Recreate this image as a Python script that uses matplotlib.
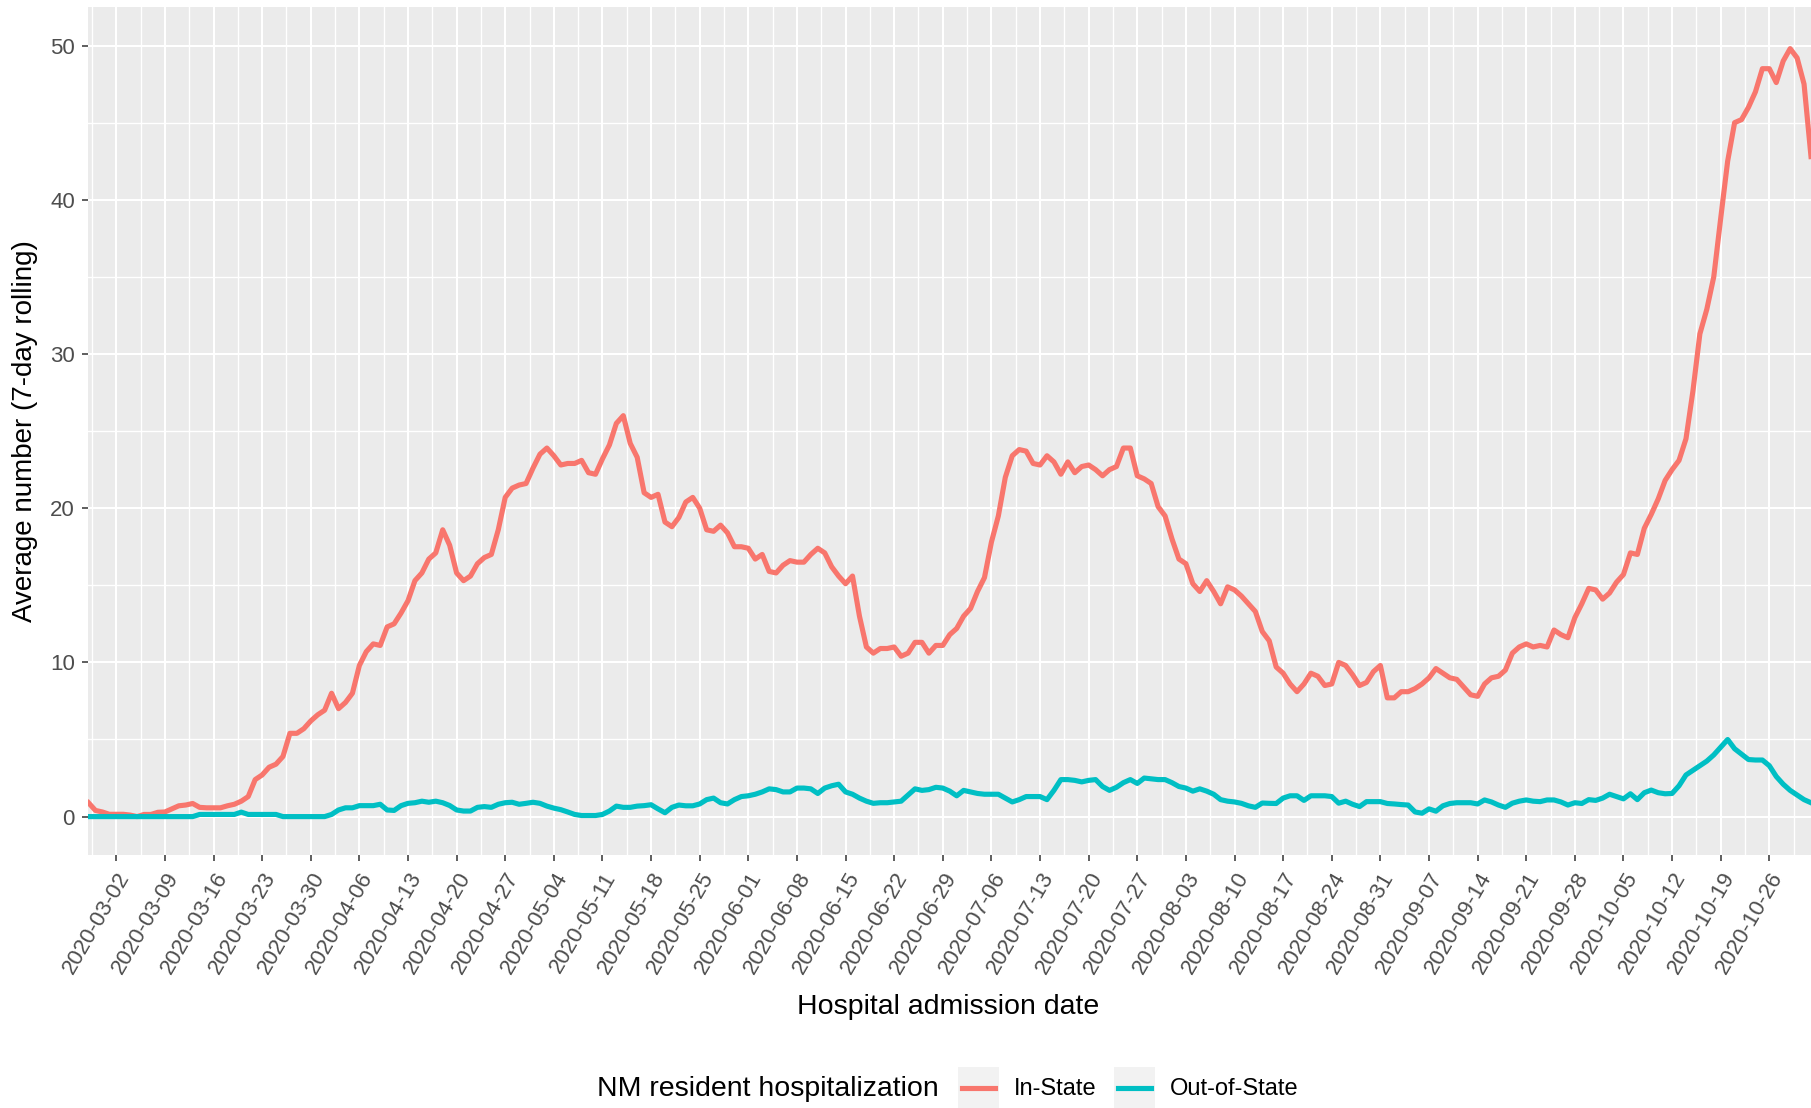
import numpy as np
import pandas as pd
import matplotlib
matplotlib.use("Agg")
import matplotlib.pyplot as plt
import matplotlib.dates as mdates
from matplotlib.patches import Rectangle
from matplotlib.lines import Line2D

plt.rcParams['font.family'] = ['Liberation Sans', 'DejaVu Sans']

# ---------------- data ----------------
start_date = "2020-02-27"

in_state = [
    0.9, 0.4, 0.3, 0.15,
    0.15, 0.15, 0.1, 0.0, 0.14, 0.14, 0.28,
    0.3, 0.5, 0.7, 0.75, 0.85, 0.6, 0.57,
    0.57, 0.57, 0.7, 0.8, 1.0, 1.3, 2.4,
    2.7, 3.2, 3.4, 3.9, 5.4, 5.4, 5.7,
    6.2, 6.6, 6.9, 8.0, 7.0, 7.4, 8.0,
    9.8, 10.7, 11.2, 11.1, 12.3, 12.5, 13.2,
    14.0, 15.3, 15.8, 16.7, 17.1, 18.6, 17.6,
    15.8, 15.3, 15.6, 16.4, 16.8, 17.0, 18.6,
    20.7, 21.3, 21.5, 21.6, 22.6, 23.5, 23.9,
    23.4, 22.8, 22.9, 22.9, 23.1, 22.3, 22.2,
    23.2, 24.1, 25.5, 26.0, 24.2, 23.3, 21.0,
    20.7, 20.9, 19.1, 18.8, 19.4, 20.4, 20.7,
    20.0, 18.6, 18.5, 18.9, 18.4, 17.5, 17.5,
    17.4, 16.7, 17.0, 15.9, 15.8, 16.3, 16.6,
    16.5, 16.5, 17.0, 17.4, 17.1, 16.2, 15.6,
    15.1, 15.6, 13.0, 11.0, 10.6, 10.9, 10.9,
    11.0, 10.4, 10.6, 11.3, 11.3, 10.6, 11.1,
    11.1, 11.8, 12.2, 13.0, 13.5, 14.6, 15.5,
    17.8, 19.5, 22.0, 23.4, 23.8, 23.7, 22.9,
    22.8, 23.4, 23.0, 22.2, 23.0, 22.3, 22.7,
    22.8, 22.5, 22.1, 22.5, 22.7, 23.9, 23.9,
    22.1, 21.9, 21.6, 20.1, 19.5, 18.0, 16.7,
    16.4, 15.1, 14.6, 15.3, 14.6, 13.8, 14.9,
    14.7, 14.3, 13.8, 13.3, 12.0, 11.4, 9.7,
    9.3, 8.6, 8.1, 8.6, 9.3, 9.1, 8.5,
    8.6, 10.0, 9.8, 9.2, 8.5, 8.7, 9.4,
    9.8, 7.7, 7.7, 8.1, 8.1, 8.3, 8.6,
    9.0, 9.6, 9.3, 9.0, 8.9, 8.4, 7.9,
    7.8, 8.6, 9.0, 9.1, 9.5, 10.6, 11.0,
    11.2, 11.0, 11.1, 11.0, 12.1, 11.8, 11.6,
    12.9, 13.8, 14.8, 14.7, 14.1, 14.5, 15.2,
    15.7, 17.1, 17.0, 18.7, 19.6, 20.6, 21.8,
    22.5, 23.1, 24.5, 27.6, 31.3, 32.9, 35.0,
    38.8, 42.5, 45.0, 45.2, 46.0, 47.0, 48.5,
    48.5, 47.6, 49.0, 49.8, 49.2, 47.5, 42.8,
]

out_of_state = [
    0, 0, 0, 0,
    0, 0, 0, 0, 0, 0, 0,
    0, 0, 0, 0, 0, 0.14, 0.14,
    0.14, 0.14, 0.14, 0.14, 0.29, 0.14, 0.14,
    0.14, 0.14, 0.14, 0, 0, 0, 0,
    0, 0, 0, 0.14, 0.43, 0.57, 0.57,
    0.71, 0.71, 0.71, 0.8, 0.43, 0.4, 0.71,
    0.86, 0.9, 1.0, 0.93, 1.0, 0.9, 0.72,
    0.43, 0.36, 0.36, 0.6, 0.65, 0.6, 0.8,
    0.9, 0.93, 0.8, 0.86, 0.93, 0.86, 0.68,
    0.55, 0.45, 0.3, 0.14, 0.07, 0.07, 0.07,
    0.14, 0.36, 0.68, 0.6, 0.6, 0.68, 0.71,
    0.77, 0.5, 0.25, 0.6, 0.75, 0.7, 0.7,
    0.82, 1.1, 1.2, 0.9, 0.82, 1.1, 1.3,
    1.35, 1.45, 1.6, 1.8, 1.75, 1.6, 1.6,
    1.85, 1.85, 1.8, 1.5, 1.85, 2.0, 2.1,
    1.6, 1.45, 1.2, 1.0, 0.86, 0.9, 0.9,
    0.95, 1.0, 1.4, 1.8, 1.7, 1.75, 1.9,
    1.85, 1.65, 1.35, 1.7, 1.6, 1.5, 1.45,
    1.45, 1.45, 1.2, 0.95, 1.1, 1.3, 1.3,
    1.3, 1.1, 1.7, 2.4, 2.4, 2.35, 2.25,
    2.35, 2.4, 1.95, 1.7, 1.9, 2.2, 2.4,
    2.15, 2.5, 2.45, 2.4, 2.4, 2.2, 1.95,
    1.85, 1.65, 1.8, 1.65, 1.45, 1.1, 1.0,
    0.95, 0.86, 0.7, 0.6, 0.88, 0.86, 0.85,
    1.2, 1.35, 1.35, 1.05, 1.35, 1.35, 1.35,
    1.3, 0.87, 1.0, 0.8, 0.65, 0.97, 0.97,
    0.97, 0.85, 0.82, 0.78, 0.75, 0.3, 0.22,
    0.5, 0.35, 0.7, 0.85, 0.9, 0.9, 0.9,
    0.82, 1.08, 0.95, 0.75, 0.6, 0.87, 1.0,
    1.08, 1.0, 0.97, 1.08, 1.08, 0.95, 0.75,
    0.9, 0.85, 1.1, 1.05, 1.2, 1.45, 1.3,
    1.15, 1.48, 1.1, 1.55, 1.72, 1.55, 1.48,
    1.5, 2.0, 2.7, 3.0, 3.3, 3.6, 4.0,
    4.5, 5.0, 4.4, 4.05, 3.7, 3.67, 3.67,
    3.3, 2.6, 2.1, 1.7, 1.4, 1.1, 0.9,
]

series_names = ["In-State", "Out-of-State"]
series_colors = ["#F8766D", "#00BFC4"]
y_ticks = [0, 10, 20, 30, 40, 50]
x_tick_start, x_tick_end = "2020-03-02", "2020-10-26"

dates = pd.date_range(start_date, periods=len(in_state), freq="D")
week_ticks = pd.date_range(x_tick_start, x_tick_end, freq="7D")
week_labels = [d.strftime("%Y-%m-%d") for d in week_ticks]

# ---------------- figure ----------------
W, H = 1811, 1108
fig = plt.figure(figsize=(W / 100, H / 100), dpi=100)
fig.patch.set_facecolor("white")

pl, pr, pt, pb = 88, 1811, 7, 855
ax = fig.add_axes([pl / W, 1 - pb / H, (pr - pl) / W, (pb - pt) / H])
ax.set_facecolor("#EBEBEB")
for s in ax.spines.values():
    s.set_visible(False)

for vals, col in zip([in_state, out_of_state], series_colors):
    ax.plot(dates, vals, color=col, lw=3.7, solid_joinstyle="round", zorder=3)

x0 = mdates.date2num(dates[0])
x1 = mdates.date2num(dates[-1])
ax.set_xlim(x0 - 0.07, x1)
ax.set_ylim(-2.49, 52.5)

ax.set_xticks(mdates.date2num(week_ticks))
ax.set_xticklabels(week_labels, rotation=60, ha="right", va="top",
                   rotation_mode="anchor")
minor_x = np.arange(mdates.date2num(week_ticks[0]) - 3.5, x1 + 1, 7)
ax.set_xticks(minor_x, minor=True)
ax.set_yticks(y_ticks)
ax.set_yticklabels([str(v) for v in y_ticks])
ax.set_yticks([5, 15, 25, 35, 45], minor=True)

ax.grid(which="major", color="white", lw=1.5)
ax.grid(which="minor", color="white", lw=1.0)
ax.set_axisbelow(True)

ax.tick_params(axis="both", which="major", length=4.5, width=1.1,
               color="#333333", labelcolor="#4D4D4D", labelsize=16)
ax.tick_params(axis="x", which="major", pad=5)
ax.tick_params(axis="y", which="major", pad=5)
ax.tick_params(which="minor", length=0)

# axis titles
fig.text(948 / W, 1 - 1007 / H, "Hospital admission date", ha="center",
         va="center", fontsize=20.5, color="black")
fig.text(25 / W, 1 - 431 / H, "Average number (7-day rolling)", ha="center",
         va="center", rotation=90, fontsize=20, color="black")

# legend (bottom, horizontal)
ly = 1089
fig.text(597 / W, 1 - ly / H, "NM resident hospitalization", ha="left",
         va="center", fontsize=20.5, color="black")
key_x = [958, 1114]
lab_x = [1014, 1170]
for kx, lx, name, col in zip(key_x, lab_x, series_names, series_colors):
    fig.patches.append(Rectangle((kx / W, 0), 41 / W, 41 / H,
                                 transform=fig.transFigure,
                                 facecolor="#F2F2F2", edgecolor="none"))
    fig.lines.append(Line2D([(kx + 4) / W, (kx + 37) / W],
                            [1 - (ly - 1) / H, 1 - (ly - 1) / H],
                            transform=fig.transFigure, color=col, lw=3.7))
    fig.text(lx / W, 1 - ly / H, name, ha="left", va="center",
             fontsize=17, color="black")

fig.savefig("out.png", dpi=100)
